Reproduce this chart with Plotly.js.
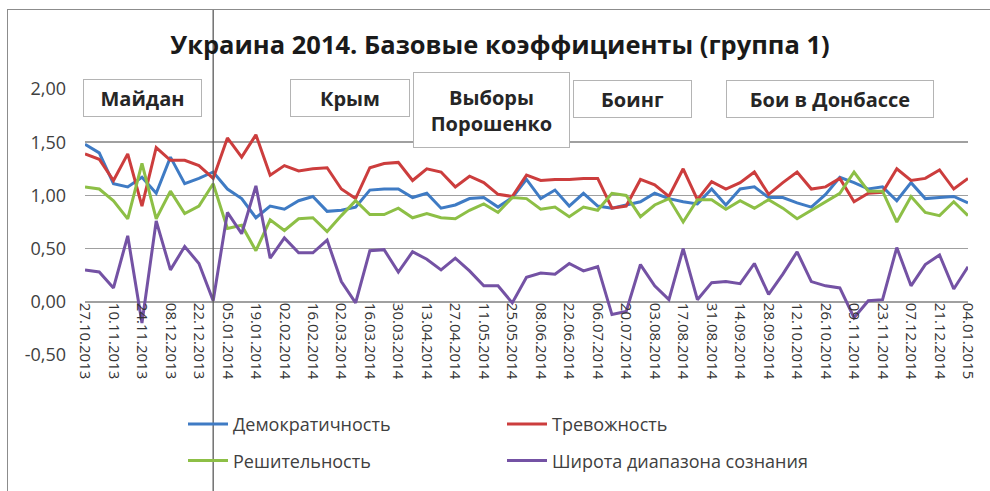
<!DOCTYPE html>
<html><head><meta charset="utf-8">
<script src="https://cdn.plot.ly/plotly-3.0.1.min.js"></script>
<style>html,body{margin:0;padding:0;background:#fff;overflow:hidden}
#wrap{position:relative;width:990px;height:491px}
#chart{width:990px;height:491px}
#frame{position:absolute;left:7px;top:9px;width:1000px;height:600px;border:1px solid #8c8c8c;pointer-events:none;box-sizing:border-box}
</style>
</head><body><div id="wrap"><div id="chart"></div><div id="frame"></div></div>
<script>
const dates = ['27.10.2013','03.11.2013','10.11.2013','17.11.2013','24.11.2013','01.12.2013','08.12.2013','15.12.2013','22.12.2013','29.12.2013',
'05.01.2014','12.01.2014','19.01.2014','26.01.2014','02.02.2014','09.02.2014','16.02.2014','23.02.2014','02.03.2014','09.03.2014',
'16.03.2014','23.03.2014','30.03.2014','06.04.2014','13.04.2014','20.04.2014','27.04.2014','04.05.2014','11.05.2014','18.05.2014',
'25.05.2014','01.06.2014','08.06.2014','15.06.2014','22.06.2014','29.06.2014','06.07.2014','13.07.2014','20.07.2014','27.07.2014',
'03.08.2014','10.08.2014','17.08.2014','24.08.2014','31.08.2014','07.09.2014','14.09.2014','21.09.2014','28.09.2014','05.10.2014',
'12.10.2014','19.10.2014','26.10.2014','02.11.2014','09.11.2014','16.11.2014','23.11.2014','30.11.2014','07.12.2014','14.12.2014',
'21.12.2014','28.12.2014','04.01.2015'];

const democracy = [1.48,1.40,1.11,1.08,1.17,1.02,1.36,1.11,1.16,1.22,
1.06,0.97,0.79,0.90,0.87,0.95,0.99,0.85,0.86,0.89,
1.05,1.06,1.06,0.98,1.02,0.88,0.91,0.97,0.98,0.89,
0.98,1.15,0.97,1.05,0.90,1.02,0.90,0.88,0.91,0.94,
1.02,0.97,0.94,0.92,1.06,0.91,1.06,1.08,0.98,0.98,
0.93,0.89,1.01,1.17,1.12,1.06,1.08,0.95,1.12,0.97,
0.98,0.99,0.93];

const anxiety = [1.39,1.34,1.14,1.39,0.90,1.45,1.33,1.33,1.28,1.16,
1.54,1.36,1.57,1.19,1.28,1.23,1.25,1.26,1.06,0.97,
1.26,1.30,1.31,1.14,1.25,1.22,1.08,1.18,1.12,1.01,
0.99,1.19,1.14,1.15,1.15,1.16,1.16,0.88,0.90,1.15,
1.10,0.99,1.25,0.96,1.13,1.06,1.12,1.22,1.01,1.12,
1.22,1.06,1.08,1.16,0.94,1.02,1.03,1.25,1.14,1.16,
1.24,1.06,1.16];

const resolve = [1.08,1.06,0.95,0.78,1.30,0.78,1.04,0.83,0.90,1.11,
0.69,0.72,0.48,0.77,0.67,0.78,0.79,0.66,0.81,0.95,
0.82,0.82,0.88,0.79,0.83,0.79,0.78,0.86,0.92,0.84,
0.98,0.97,0.87,0.89,0.80,0.89,0.86,1.02,1.00,0.80,
0.91,0.97,0.75,0.96,0.96,0.87,0.95,0.88,0.96,0.88,
0.78,0.86,0.94,1.02,1.22,1.04,1.04,0.75,0.99,0.84,
0.81,0.94,0.81];

const breadth = [0.30,0.28,0.13,0.62,-0.20,0.76,0.30,0.52,0.36,0.01,
0.84,0.64,1.09,0.41,0.60,0.46,0.46,0.58,0.19,-0.01,
0.48,0.49,0.28,0.47,0.40,0.30,0.41,0.29,0.15,0.15,
-0.01,0.23,0.27,0.26,0.36,0.29,0.33,-0.12,-0.09,0.35,
0.15,0.02,0.50,0.02,0.18,0.19,0.17,0.36,0.07,0.26,
0.47,0.19,0.15,0.13,-0.15,0.01,0.02,0.51,0.15,0.35,
0.44,0.12,0.33];

const seriesNames = ['Демократичность','Тревожность','Решительность','Широта диапазона сознания'];
const seriesColors = ['#3f7bc4','#cc3d3d','#8dbf46','#7452a4'];
const yTickVals = [-0.5,0,0.5,1,1.5,2];
const yTickText = ['-0,50','0,00','0,50','1,00','1,50','2,00'];
const tickDates = dates.filter((d,i)=>i%2===0);
const eventLabels = ['Майдан','Крым','Выборы<br>Порошенко','Боинг','Бои в Донбассе'];
const markerDate = '29.12.2013';
const chartTitle = 'Украина 2014. Базовые коэффициенты (группа 1)';

const FONT = 'Open Sans, Noto Sans, sans-serif';
const W=990, H=491, L=85, R=22, T=89, B=133;
const plotW=W-L-R, plotH=H-T-B;
const px = p => (p-L)/plotW;
const py = p => (H-B-p)/plotH;
const yRange=[-0.5,2];

const allSeries=[democracy,anxiety,resolve,breadth];
const legendOf=['legend','legend','legend2','legend2'];
const traces = allSeries.map((vals,k)=>({
  type:'scatter', mode:'lines', x:dates, y:vals, name:seriesNames[k],
  line:{color:seriesColors[k], width:3}, legend:legendOf[k], hoverinfo:'skip'
}));

// event boxes: [centerX px, centerY px, width, height]
const boxGeom=[[142.5,98.5,119,38],[350,98.5,120,38],[491.5,110,157,76],[632.5,99,119,38],[829.5,99,208,38]];
const annotations = eventLabels.map((t,i)=>({
  text:t, xref:'paper', yref:'paper', x:px(boxGeom[i][0]), y:py(boxGeom[i][1]),
  xanchor:'center', yanchor:'middle', showarrow:false,
  width:boxGeom[i][2]-2, height:boxGeom[i][3]-2, borderpad:0,
  bordercolor:'#b4b4b4', borderwidth:1, bgcolor:'#ffffff',
  font:{family:FONT, size:20, weight:700, color:'#262626'}
}));

const lineX = dates.indexOf(markerDate)/(dates.length-1);
const shapes = [
  {type:'line', xref:'paper', yref:'paper', x0:lineX, x1:lineX, y0:py(500), y1:py(9),
   line:{color:'#5a5a5a', width:1.3}, layer:'above'}
];

const legendBase = {orientation:'h', xanchor:'left', yanchor:'middle', entrywidth:264, entrywidthmode:'pixels',
  font:{family:FONT, size:18, color:'#404040'}, bgcolor:'rgba(0,0,0,0)', itemwidth:40, tracegroupgap:0};

const layout = {
  width:W, height:H, margin:{l:L, r:R, t:T, b:B},
  paper_bgcolor:'#ffffff', plot_bgcolor:'#ffffff',
  showlegend:true,
  title:{text:chartTitle, xref:'container', yref:'container', x:500/W, y:1-45/H, xanchor:'center', yanchor:'middle',
    font:{family:FONT, size:25.5, weight:700, color:'#1a1a1a'}},
  xaxis:{type:'category', range:[0, dates.length-1], tickmode:'array', tickvals:tickDates, ticktext:tickDates,
    tickangle:90, tickfont:{family:FONT, size:15, color:'#333333'}, showgrid:false, zeroline:false, showline:false,
    ticks:'', anchor:'free', position:(0-yRange[0])/(yRange[1]-yRange[0]), fixedrange:true},
  yaxis:{range:yRange, tickmode:'array', tickvals:yTickVals, ticktext:yTickText, showgrid:true,
    gridcolor:'#a0a0a0', gridwidth:1.6, zeroline:false, showline:false, ticks:'', ticklabelstandoff:18,
    tickfont:{family:FONT, size:18, color:'#404040'}, fixedrange:true},
  legend:Object.assign({}, legendBase, {x:px(183), y:py(428)}),
  legend2:Object.assign({}, legendBase, {x:px(183), y:py(465)}),
  annotations, shapes
};

Plotly.newPlot('chart', traces, layout, {staticPlot:true, displayModeBar:false});
</script></body></html>
